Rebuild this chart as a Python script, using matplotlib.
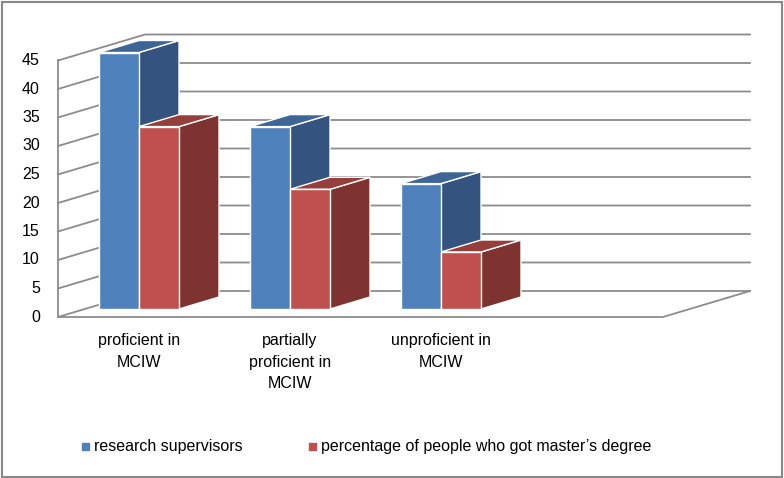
import matplotlib
matplotlib.use("Agg")
import matplotlib.pyplot as plt
from matplotlib.patches import Polygon, Rectangle

categories = ["proficient in\nMCIW", "partially\nproficient in\nMCIW", "unproficient in\nMCIW"]
series_names = ["research supervisors", "percentage of people who got master\u2019s degree"]
supervisors = [45, 32, 22]
masters = [32, 21, 10]
yticks = [0, 5, 10, 15, 20, 25, 30, 35, 40, 45]

PX = 151.0   # px per category
PY = 5.7     # px per value unit
X0, Y0 = 139, 309
fig = plt.figure(figsize=(7.84, 4.78), dpi=100)
ax = fig.add_axes([0, 0, 1, 1])
ax.set_xlim(-X0 / PX, (784 - X0) / PX)
ax.set_ylim((Y0 - 478) / PY, Y0 / PY)
ax.axis("off")

def xp(px): return (px - X0) / PX
def yp(py): return (Y0 - py) / PY

# walls
wdx, wdy = 87 / PX, 26 / PY
floor_y = yp(317)
xl, xr = xp(58), xp(663)
gc = "#8c8c8c"
for v in yticks:
    y = floor_y + v
    ax.plot([xl, xl + wdx, xr + wdx], [y, y + wdy, y + wdy], color=gc, lw=1.3, zorder=1)
ax.plot([xl, xl], [floor_y, floor_y + 45], color=gc, lw=1.3, zorder=1)
ax.plot([xl, xr, xr + wdx], [floor_y, floor_y, floor_y + wdy], color=gc, lw=1.3, zorder=1)
for v in yticks:
    ax.text(xl - 0.12, floor_y + v, str(v), ha="right", va="center", fontsize=11.5,
            family="Liberation Sans")

# bars
bw = 40 / PX
bdx, bdy = 40 / PX, 12 / PY
base = yp(309)
cols = [("#4f81bd", "#34537f", "#3d6596"), ("#c0504d", "#7f3331", "#953e3b")]
for series, off, (cf, cs, ct) in [(supervisors, -bw, cols[0]), (masters, 0, cols[1])]:
    for i, v in enumerate(series):
        x0 = i + off
        ax.bar(x0, v, width=bw, bottom=base, align="edge", color=cf, edgecolor="white",
               lw=1, zorder=5 - 0.1 * i)
        top = base + v
        ax.add_patch(Polygon([(x0 + bw, base), (x0 + bw + bdx, base + bdy), (x0 + bw + bdx, top + bdy),
                              (x0 + bw, top)], closed=True, fc=cs, ec="white", lw=1, zorder=4.9 - 0.1 * i))
        ax.add_patch(Polygon([(x0, top), (x0 + bw, top), (x0 + bw + bdx, top + bdy), (x0 + bdx, top + bdy)],
                             closed=True, fc=ct, ec="white", lw=1, zorder=4.9 - 0.1 * i))

for i, c in enumerate(categories):
    ax.text(i, yp(333), c, ha="center", va="top", fontsize=11.5, linespacing=1.55,
            family="Liberation Sans")

# legend
ly = yp(446)
ax.add_patch(Rectangle((xp(82), ly - 3.5 / PY), 7 / PX, 7 / PY, color=cols[0][0]))
ax.text(xp(94), ly, series_names[0], va="center", fontsize=11.5, family="Liberation Sans")
ax.add_patch(Rectangle((xp(309), ly - 3.5 / PY), 7 / PX, 7 / PY, color=cols[1][0]))
ax.text(xp(321), ly, series_names[1], va="center", fontsize=11.5, family="Liberation Sans")

fig.patches.append(Rectangle((0.002, 0.003), 0.995, 0.993, transform=fig.transFigure,
                             fill=False, ec="#888888", lw=1.5))
fig.savefig("out.png", dpi=100)
